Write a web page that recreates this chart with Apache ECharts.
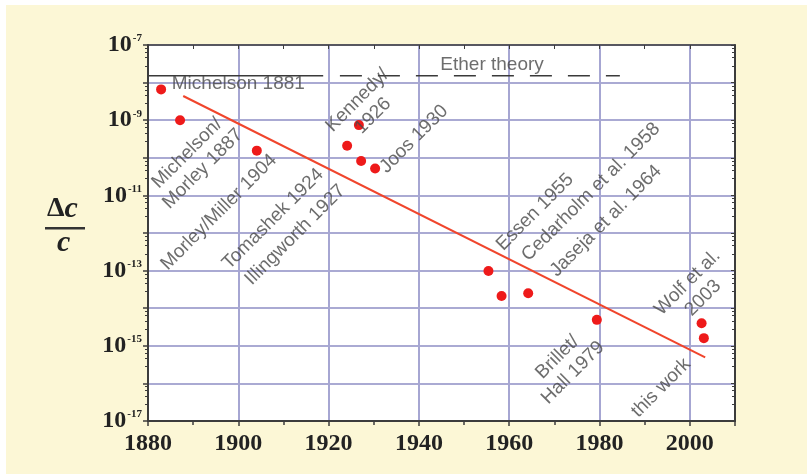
<!DOCTYPE html>
<html>
<head>
<meta charset="utf-8">
<script src="https://cdn.jsdelivr.net/npm/echarts@6/dist/echarts.min.js"></script>
<style>
  html, body { margin: 0; padding: 0; background: #ffffff; }
  #chart { position: absolute; left: 6px; top: 5px; width: 801px; height: 469px; }
</style>
</head>
<body>
<div id="chart"></div>
<script>
// measurements (year, delta c / c)
const pointYears  = [1882.9, 1887.1, 1904.1, 1924.1, 1926.7, 1927.2, 1930.3, 1955.4, 1958.3, 1964.2, 1979.4, 2002.6, 2003.1];
const pointValues = [6.6e-9, 1.0e-9, 1.55e-10, 2.1e-10, 7.4e-10, 8.2e-11, 5.2e-11, 9.8e-14, 2.1e-14, 2.5e-14, 4.9e-15, 4.0e-15, 1.6e-15];

// fitted trend
const trendYears  = [1887.8, 2003.4];
const trendValues = [4.4e-9, 4.9e-16];

// ether theory level
const etherValue = 1.52e-8;
const etherSolidYears = [1880, 1918.8];
const etherDashYears  = [1922.5, 1984.5];

// annotations
const noteTexts  = ['Michelson 1881', 'Michelson/\nMorley 1887', 'Morley/Miller 1904', 'Tomashek 1924',
                    'Illingworth 1927', 'Kennedy/\n1926', 'Joos 1930', 'Essen 1955',
                    'Cedarholm et al. 1958', 'Jaseja et al. 1964', 'Brillet/\nHall 1979', 'this work',
                    'Wolf et al.\n2003', 'Ether theory'];
const noteYears  = [1900.0, 1890.4, 1895.7, 1907.7, 1912.6, 1928.1, 1938.9, 1965.7, 1978.1, 1981.4, 1972.4, 1993.6, 2001.2, 1956.2];
const noteValues = [9.2e-9, 8.2e-11, 3.6e-12, 2.36e-12, 8.9e-13, 2.1e-9, 3.16e-10, 3.6e-12, 1.23e-11, 2.1e-12, 3.1e-16, 7.6e-17, 3.0e-14, 2.94e-8];
const noteAngles = [0, 45, 45, 45, 45, 45, 45, 45, 45, 45, 45, 45, 45, 0];

const xMin = 1880, xMax = 2010, xStep = 20;
const yMin = 1e-17, yMax = 1e-7;

const chart = echarts.init(document.getElementById('chart'));

const axisDark = '#3c3c3c';
const tickFont = { fontFamily: 'Liberation Serif', fontWeight: 'bold', color: '#222' };

function yLabel(v) {
  const e = Math.round(Math.log10(v));
  if (e % 2 === 0) return '';
  return '{b|10}{s|' + e + '}';
}

let option = {
  backgroundColor: '#fcf7d6',
  animation: false,
  grid: {
    left: 142, right: 72, top: 40, bottom: 53,
    show: true, backgroundColor: '#ffffff', borderWidth: 0
  },
  xAxis: [{
    type: 'value', min: xMin, max: xMax, interval: xStep,
    axisLine: { show: true, lineStyle: { color: axisDark, width: 2 } },
    axisTick: { show: true, length: 5, lineStyle: { color: axisDark, width: 1.5 } },
    minorTick: { show: true, splitNumber: 2, length: 4, lineStyle: { color: axisDark, width: 1.5 } },
    splitLine: { show: true, lineStyle: { color: '#a6a6d2', width: 2 } },
    axisLabel: {
      margin: 11, fontSize: 24, ...tickFont,
      formatter: v => (v > 2000 ? '' : String(v))
    }
  }, {
    type: 'value', min: xMin, max: xMax, interval: xStep, position: 'top',
    axisLine: { show: true, lineStyle: { color: axisDark, width: 1.5 } },
    axisTick: { show: true, inside: true, length: 4, lineStyle: { color: axisDark } },
    minorTick: { show: true, splitNumber: 2, length: 4, lineStyle: { color: axisDark } },
    splitLine: { show: false },
    axisLabel: { show: false }
  }],
  yAxis: [{
    type: 'log', logBase: 10, min: yMin, max: yMax, interval: 1,
    axisLine: { show: true, lineStyle: { color: axisDark, width: 2 } },
    axisTick: { show: true, length: 5, lineStyle: { color: axisDark, width: 1.5 } },
    minorTick: { show: true, splitNumber: 5, length: 3, lineStyle: { color: axisDark } },
    splitLine: { show: true, lineStyle: { color: '#8e8ec4', width: 1.5 } },
    axisLabel: {
      margin: 6,
      formatter: yLabel,
      rich: {
        b: { fontSize: 24, lineHeight: 24, ...tickFont },
        s: { fontSize: 11, verticalAlign: 'top', lineHeight: 12, padding: [0, 0, 12, 1], ...tickFont }
      }
    }
  }, {
    type: 'log', logBase: 10, min: yMin, max: yMax, interval: 1, position: 'right',
    axisLine: { show: true, lineStyle: { color: axisDark, width: 2 } },
    axisTick: { show: true, inside: true, length: 4, lineStyle: { color: axisDark } },
    minorTick: { show: true, splitNumber: 5, length: 3, lineStyle: { color: axisDark } },
    splitLine: { show: false },
    axisLabel: { show: false }
  }],
  graphic: [
    {
      type: 'text', left: 41, top: 189, z: 10,
      style: {
        text: '{d|Δ}{c|c}',
        rich: {
          d: { fontFamily: 'Liberation Serif', fontWeight: 'bold', fontSize: 28, fill: '#222' },
          c: { fontFamily: 'Liberation Serif', fontWeight: 'bold', fontStyle: 'italic', fontSize: 30, fill: '#222' }
        }
      }
    },
    { type: 'rect', left: 39, top: 222, z: 10, shape: { width: 40, height: 2.5 }, style: { fill: '#333' } },
    {
      type: 'text', left: 51, top: 223, z: 10,
      style: { text: 'c', fontFamily: 'Liberation Serif', fontWeight: 'bold', fontStyle: 'italic', fontSize: 30, fill: '#222' }
    }
  ],
  series: [
    {
      type: 'line', symbol: 'none', silent: true,
      data: etherSolidYears.map(y => [y, etherValue]),
      lineStyle: { color: '#3a3a3a', width: 1.5 }
    },
    {
      type: 'line', symbol: 'none', silent: true,
      data: etherDashYears.map(y => [y, etherValue]),
      lineStyle: { color: '#3a3a3a', width: 1.5, type: [22, 16] }
    },
    {
      type: 'line', symbol: 'none', silent: true,
      data: trendYears.map((y, i) => [y, trendValues[i]]),
      lineStyle: { color: '#f0452c', width: 2 }
    },
    {
      type: 'scatter', symbolSize: 10, silent: true,
      itemStyle: { color: '#ee1a1a', opacity: 1 },
      data: pointYears.map((y, i) => [y, pointValues[i]])
    },
    {
      type: 'scatter', symbolSize: 2, silent: true, z: 5,
      itemStyle: { color: 'rgba(0,0,0,0)' },
      labelLayout: { hideOverlap: false },
      data: noteTexts.map((t, i) => ({
        name: t,
        value: [noteYears[i], noteValues[i]],
        label: { rotate: noteAngles[i] }
      })),
      label: {
        show: true, position: 'inside', align: 'center', verticalAlign: 'middle',
        formatter: p => p.name,
        fontFamily: 'Liberation Sans', fontSize: 19, lineHeight: 22, color: '#484848'
      }
    }
  ]
};

chart.setOption(option);
</script>
</body>
</html>
